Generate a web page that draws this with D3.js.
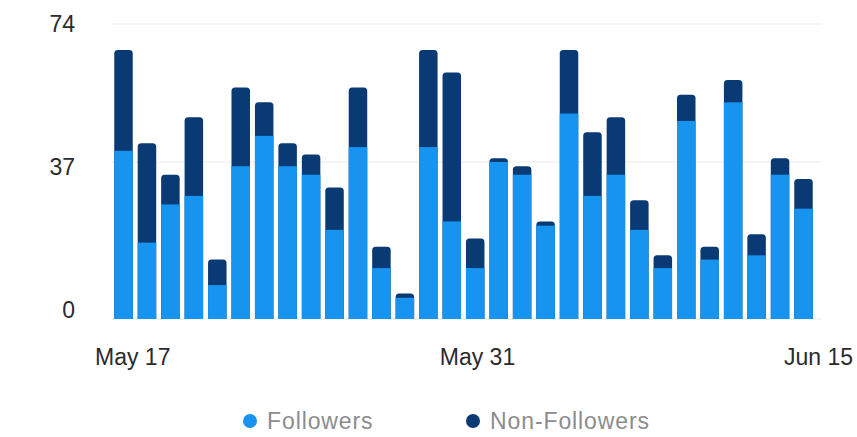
<!DOCTYPE html>
<html>
<head>
<meta charset="utf-8">
<script src="https://cdn.jsdelivr.net/npm/d3@7"></script>
<style>
  html, body { margin: 0; padding: 0; background: #ffffff; }
  svg { display: block; }
  text { font-family: "Liberation Sans", "Helvetica", Arial, sans-serif; }
</style>
</head>
<body>
<svg id="chart" width="857" height="437"></svg>
<script>
// ---- data ----
const days = d3.timeDay.range(new Date(2023, 4, 16), new Date(2023, 5, 15)); // May 16 .. Jun 14
const followers    = [40, 18, 27, 29, 8, 36, 44, 36, 34, 21, 41, 12, 5, 41, 23, 12, 37, 34, 22, 50, 29, 34, 21, 12, 48, 14, 53, 15, 34, 26];
const nonFollowers = [27, 24,  7, 20, 6, 21,  9,  6,  5, 10, 16,  5, 1, 26, 38,  7,  1,  2,  1, 17, 16, 15,  7,  3,  7,  3,  6,  5,  4,  7];
const yTicks = [0, 37, 74];
const xTickLabels = ["May 17", "May 31", "Jun 15"];
const seriesNames = ["Followers", "Non-Followers"];
const colors = ["#1794f0", "#093a74"];

// ---- layout ----
const svg = d3.select("#chart");
const gridX0 = 112, gridX1 = 822;

const x = d3.scaleBand()
  .domain(days.map(d => +d))
  .range([114.25, 812.75])
  .paddingInner(0.211)
  .paddingOuter(0);

// gridlines of the reference are not evenly spaced: piecewise-linear scale
const y = d3.scaleLinear().domain([0, 37, 74]).range([319, 162, 24]);
const yLabel = d3.scaleLinear().domain([0, 74]).range([309.5, 23.7]);

// gridlines
svg.append("g").selectAll("line")
  .data(yTicks)
  .join("line")
  .attr("x1", gridX0).attr("x2", gridX1)
  .attr("y1", d => y(d)).attr("y2", d => y(d))
  .attr("stroke", "#ececec").attr("stroke-width", 1.2);

// y labels
svg.append("g").selectAll("text")
  .data(yTicks)
  .join("text")
  .attr("x", 75)
  .attr("y", d => yLabel(d))
  .attr("text-anchor", "end")
  .attr("dominant-baseline", "central")
  .attr("font-size", 23)
  .attr("fill", "#2b2b2b")
  .text(d => d);

// stacked bars
function topRounded(x0, y0, w, h, r) {
  r = Math.min(r, h, w / 2);
  return `M${x0},${y0 + h}V${y0 + r}Q${x0},${y0} ${x0 + r},${y0}H${x0 + w - r}Q${x0 + w},${y0} ${x0 + w},${y0 + r}V${y0 + h}Z`;
}

const data = days.map((d, i) => ({ date: +d, f: followers[i], nf: nonFollowers[i] }));
const bw = x.bandwidth();
const bars = svg.append("g");

bars.selectAll("path.total")
  .data(data)
  .join("path")
  .attr("class", "total")
  .attr("fill", colors[1])
  .attr("d", d => {
    const yt = y(d.f + d.nf);
    return topRounded(x(d.date), yt, bw, y(0) - yt, 3.5);
  });

bars.selectAll("rect.f")
  .data(data)
  .join("rect")
  .attr("class", "f")
  .attr("fill", colors[0])
  .attr("x", d => x(d.date))
  .attr("width", bw)
  .attr("y", d => y(d.f))
  .attr("height", d => y(0) - y(d.f));

// x labels: start / centre / end of the axis
const xl = svg.append("g");
const xPos = [95, 477.5, 853];
const anchors = ["start", "middle", "end"];
xl.selectAll("text")
  .data(xTickLabels)
  .join("text")
  .attr("x", (d, i) => xPos[i])
  .attr("y", 365)
  .attr("text-anchor", (d, i) => anchors[i])
  .attr("font-size", 23)
  .attr("fill", "#2b2b2b")
  .text(d => d);

// legend
const legendX = [250, 473];
const lg = svg.append("g");
lg.selectAll("circle")
  .data(seriesNames)
  .join("circle")
  .attr("cx", (d, i) => legendX[i])
  .attr("cy", 421)
  .attr("r", 7)
  .attr("fill", (d, i) => colors[i]);
lg.selectAll("text")
  .data(seriesNames)
  .join("text")
  .attr("x", (d, i) => legendX[i] + 17)
  .attr("y", 421)
  .attr("dominant-baseline", "central")
  .attr("font-size", 23)
  .attr("letter-spacing", 0.9)
  .attr("fill", "#8c8c8c")
  .text(d => d);
</script>
</body>
</html>
